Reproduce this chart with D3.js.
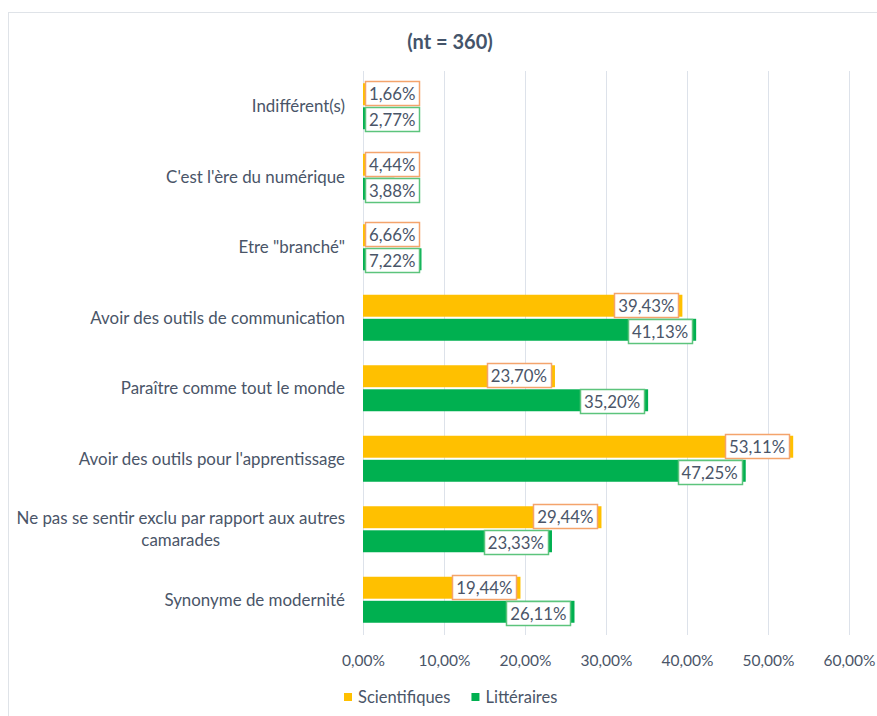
<!DOCTYPE html>
<html>
<head>
<meta charset="utf-8">
<script src="https://cdn.jsdelivr.net/npm/d3@7"></script>
<style>
  body { margin: 0; background: #fff; }
  text { font-family: Lato, "Open Sans", sans-serif; }
</style>
</head>
<body>
<svg id="chart" width="877" height="716"></svg>
<script>
const categories = [
  'Indifférent(s)',
  "C'est l'ère du numérique",
  'Etre "branché"',
  'Avoir des outils de communication',
  'Paraître comme tout le monde',
  "Avoir des outils pour l'apprentissage",
  'Ne pas se sentir exclu par rapport aux autres camarades',
  'Synonyme de modernité'
]
// wrapped label lines as in the original
const categoryLines = [
  ['Indifférent(s)'],
  ["C'est l'ère du numérique"],
  ['Etre "branché"'],
  ['Avoir des outils de communication'],
  ['Paraître comme tout le monde'],
  ["Avoir des outils pour l'apprentissage"],
  ['Ne pas se sentir exclu par rapport aux autres', 'camarades'],
  ['Synonyme de modernité']
]
const series = ['Scientifiques', 'Littéraires']
const scientifiques = [1.66, 4.44, 6.66, 39.43, 23.70, 53.11, 29.44, 19.44]
const litteraires = [2.77, 3.88, 7.22, 41.13, 35.20, 47.25, 23.33, 26.11]
const ticks = [0, 10, 20, 30, 40, 50, 60]
const title = '(nt = 360)'

const seriesColors = ['#ffc000', '#00b050']
const labelBorders = ['#f4a46c', '#5cc47c']
const textColor = '#4a5568'

const svg = d3.select('#chart')
const fmt = v => v.toFixed(2).replace('.', ',') + '%'

// frame
svg.append('rect')
  .attr('x', 8.5).attr('y', 12.5)
  .attr('width', 900).attr('height', 800)
  .attr('fill', 'none').attr('stroke', '#dfe3e8')

svg.append('text')
  .attr('x', 450).attr('y', 49)
  .attr('text-anchor', 'middle')
  .attr('font-size', 20).attr('font-weight', 'bold')
  .attr('fill', '#44546a')
  .text(title)

const x = d3.scaleLinear().domain([0, 60]).range([363, 849])
const y0 = d3.scaleBand().domain(categories).range([71, 635])
const y1 = d3.scaleBand().domain(series).range([0, 46]).paddingInner(0.087)
const yOff = (y0.bandwidth() - 46) / 2

// gridlines
svg.append('g')
  .selectAll('line')
  .data(ticks)
  .join('line')
  .attr('x1', d => x(d) + 0.5).attr('x2', d => x(d) + 0.5)
  .attr('y1', 71).attr('y2', 635)
  .attr('stroke', '#dde2ea')

// x tick labels
const xAxis = d3.axisBottom(x).tickValues(ticks).tickSize(0).tickPadding(0)
  .tickFormat(d => d.toFixed(2).replace('.', ',') + '%')
svg.append('g')
  .attr('transform', 'translate(0,655)')
  .call(xAxis)
  .call(g => g.select('.domain').remove())
  .call(g => g.selectAll('.tick text')
    .attr('font-size', 15.5).attr('fill', textColor)
    .attr('font-family', 'Lato, sans-serif'))

// category labels
const catG = svg.append('g')
categories.forEach((c, i) => {
  const lines = categoryLines[i]
  const cy = y0(c) + y0.bandwidth() / 2
  const t = catG.append('text')
    .attr('font-size', 16.9).attr('fill', textColor)
  const lh = 22
  const start = cy - (lines.length - 1) * lh / 2
  lines.forEach((l, j) => {
    t.append('tspan').attr('x', 345).attr('y', start + j * lh).attr('dy', '0.35em')
      .attr('text-anchor', 'end').text(l)
  })
  // center the wrapped second line under the first
  if (lines.length > 1) {
    const spans = t.selectAll('tspan').nodes()
    const w0 = spans[0].getComputedTextLength()
    spans.slice(1).forEach(s => {
      d3.select(s).attr('text-anchor', 'middle').attr('x', 345 - w0 / 2)
    })
  }
})

// bars
const rows = categories.map((c, i) => ({ cat: c, vals: [scientifiques[i], litteraires[i]] }))
const barG = svg.append('g')
rows.forEach(r => {
  series.forEach((s, k) => {
    barG.append('rect')
      .attr('x', x(0))
      .attr('y', y0(r.cat) + yOff + y1(s))
      .attr('width', x(r.vals[k]) - x(0))
      .attr('height', y1.bandwidth())
      .attr('fill', seriesColors[k])
  })
})

// data labels
const labG = svg.append('g')
rows.forEach(r => {
  series.forEach((s, k) => {
    const v = r.vals[k]
    const g = labG.append('g')
    const t = g.append('text')
      .attr('font-size', 16.8).attr('fill', textColor)
      .attr('text-anchor', 'middle').attr('dy', '0.35em')
      .text(fmt(v))
    const w = t.node().getComputedTextLength() + 8
    const h = 24
    let right = x(v) - 4
    let left = right - w
    if (left < x(0) + 2) { left = x(0) + 2; right = left + w }
    const cy = y0(r.cat) + yOff + y1(s) + y1.bandwidth() / 2 + (k === 0 ? -1 : 1)
    g.insert('rect', 'text')
      .attr('x', Math.round(left) + 0.5).attr('y', Math.round(cy - h / 2) + 0.5)
      .attr('width', Math.round(w)).attr('height', h)
      .attr('fill', '#fff').attr('stroke', labelBorders[k]).attr('stroke-width', 1.5)
    t.attr('x', left + w / 2).attr('y', cy + 1)
  })
})

// legend
const leg = svg.append('g').attr('transform', 'translate(344,697)')
let lx = 0
series.forEach((s, k) => {
  leg.append('rect').attr('x', lx).attr('y', -4).attr('width', 8).attr('height', 8)
    .attr('fill', seriesColors[k])
  const t = leg.append('text').attr('x', lx + 14).attr('y', 0).attr('dy', '0.35em')
    .attr('font-size', 16.5).attr('fill', textColor).text(s)
  lx += 14 + t.node().getComputedTextLength() + 21
})
</script>
</body>
</html>
